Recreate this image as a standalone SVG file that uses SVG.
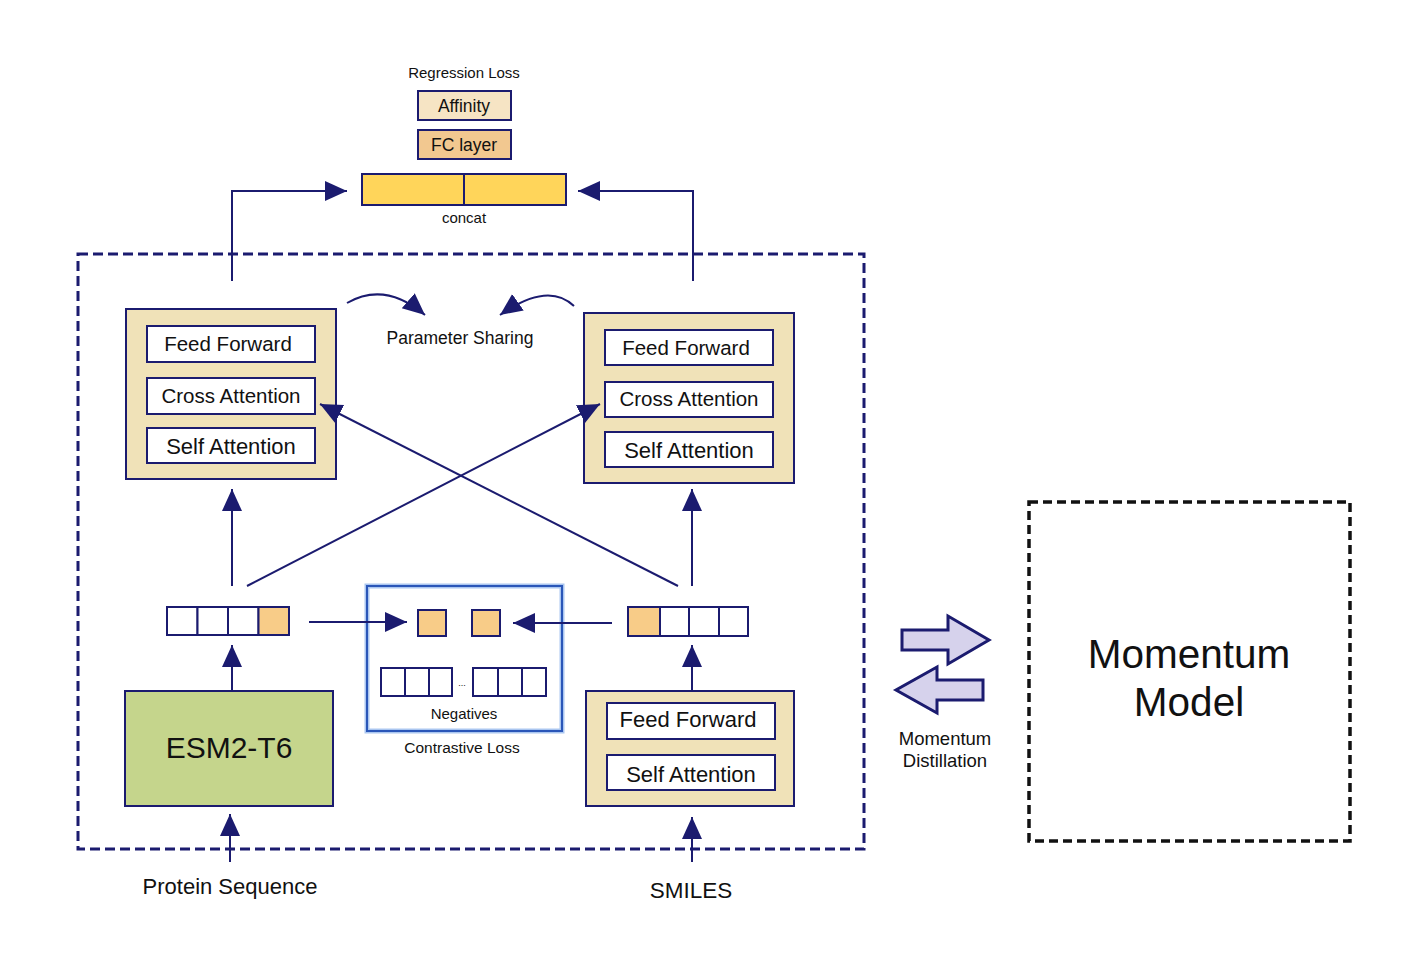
<svg xmlns="http://www.w3.org/2000/svg" width="1418" height="973" viewBox="0 0 1418 973">
<defs>
<marker id="ah" markerUnits="userSpaceOnUse" markerWidth="24" markerHeight="22" refX="22" refY="10" orient="auto">
<path d="M0,0 L22,10 L0,20 z" fill="#1b1b6f"/>
</marker>
</defs>
<style>
text{font-family:"Liberation Sans",Arial,sans-serif;fill:#111;text-anchor:middle}
.enc{fill:#f0e2b8;stroke:#1b1b6f;stroke-width:2}
.sub{fill:#fff;stroke:#1b1b6f;stroke-width:2}
.cell{fill:#fff;stroke:#1b1b6f;stroke-width:2}
.pe{fill:#f8cc88;stroke:#1b1b6f;stroke-width:2}
.ln{fill:none;stroke:#1b1b6f;stroke-width:2;marker-end:url(#ah)}
</style>
<rect width="1418" height="973" fill="#fff"/>

<g id="outer-frame">
<rect x="78" y="254" width="786" height="595" fill="none" stroke="#1b1b6f" stroke-width="3" stroke-dasharray="10 5"/>
</g>

<g id="regression-head">
<text x="464" y="78" font-size="15">Regression Loss</text>
<rect x="418" y="91" width="93" height="29" fill="#f6e4c4" stroke="#1b1b6f" stroke-width="2"/>
<text x="464" y="112" font-size="17.5">Affinity</text>
<rect x="418" y="130" width="93" height="29" fill="#f2c890" stroke="#1b1b6f" stroke-width="2"/>
<text x="464" y="151" font-size="17.5">FC layer</text>
</g>

<g id="concat">
<rect x="362" y="174" width="204" height="31" fill="#ffd55a" stroke="#1b1b6f" stroke-width="2"/>
<line x1="464" y1="174" x2="464" y2="205" stroke="#1b1b6f" stroke-width="2"/>
<text x="464" y="223" font-size="15">concat</text>
</g>

<g id="protein-encoder">
<rect class="enc" x="126" y="309" width="210" height="170"/>
<rect class="sub" x="147" y="326" width="168" height="36"/>
<text x="228" y="351" font-size="20.5">Feed Forward</text>
<rect class="sub" x="147" y="378" width="168" height="36"/>
<text x="231" y="403" font-size="20.5">Cross Attention</text>
<rect class="sub" x="147" y="428" width="168" height="35"/>
<text x="231" y="454" font-size="22">Self Attention</text>
</g>

<g id="smiles-fusion-encoder">
<rect class="enc" x="584" y="313" width="210" height="170"/>
<rect class="sub" x="605" y="330" width="168" height="35"/>
<text x="686" y="355" font-size="20.5">Feed Forward</text>
<rect class="sub" x="605" y="382" width="168" height="35"/>
<text x="689" y="406" font-size="20.5">Cross Attention</text>
<rect class="sub" x="605" y="432" width="168" height="35"/>
<text x="689" y="458" font-size="22">Self Attention</text>
</g>

<g id="parameter-sharing">
<text x="460" y="344" font-size="17.5">Parameter Sharing</text>
</g>

<g id="protein-embedding">
<rect class="cell" x="167" y="607" width="30.5" height="28"/>
<rect class="cell" x="197.5" y="607" width="30.5" height="28"/>
<rect class="cell" x="228" y="607" width="30.5" height="28"/>
<rect class="pe" x="258.5" y="607" width="30.5" height="28"/>
</g>

<g id="smiles-embedding">
<rect class="pe" x="628" y="607" width="32" height="29"/>
<rect class="cell" x="660" y="607" width="29" height="29"/>
<rect class="cell" x="689" y="607" width="30" height="29"/>
<rect class="cell" x="719" y="607" width="29" height="29"/>
</g>

<g id="contrastive-loss">
<rect x="367" y="586" width="195" height="145" fill="#fff" stroke="#aac6f0" stroke-width="5"/>
<rect x="367" y="586" width="195" height="145" fill="none" stroke="#2a56b8" stroke-width="2"/>
<rect class="pe" x="418" y="610" width="28" height="26"/>
<rect class="pe" x="472" y="610" width="28" height="26"/>
<rect class="cell" x="381" y="668" width="24" height="28"/>
<rect class="cell" x="405" y="668" width="24" height="28"/>
<rect class="cell" x="429" y="668" width="23" height="28"/>
<text x="462" y="686" font-size="9">...</text>
<rect class="cell" x="473" y="668" width="25" height="28"/>
<rect class="cell" x="498" y="668" width="24" height="28"/>
<rect class="cell" x="522" y="668" width="24" height="28"/>
<text x="464" y="719" font-size="15">Negatives</text>
<text x="462" y="753" font-size="15.5">Contrastive Loss</text>
</g>

<g id="esm2">
<rect x="125" y="691" width="208" height="115" fill="#c5d58c" stroke="#1b1b6f" stroke-width="2"/>
<text x="229" y="758" font-size="30">ESM2-T6</text>
</g>

<g id="smiles-encoder">
<rect class="enc" x="586" y="691" width="208" height="115"/>
<rect class="sub" x="607" y="703" width="168" height="36"/>
<text x="688" y="727" font-size="22">Feed Forward</text>
<rect class="sub" x="607" y="755" width="168" height="35"/>
<text x="691" y="782" font-size="22">Self Attention</text>
</g>

<g id="inputs">
<text x="230" y="894" font-size="22">Protein Sequence</text>
<text x="691" y="898" font-size="22.5">SMILES</text>
</g>

<g id="momentum-distillation">
<path d="M902,630 L948,630 L948,616 L989,640 L948,664 L948,650 L902,650 z" fill="#d6d2ec" stroke="#1b1b6f" stroke-width="3"/>
<path d="M983,680 L937,680 L937,667 L896,690 L937,713 L937,700 L983,700 z" fill="#d6d2ec" stroke="#1b1b6f" stroke-width="3"/>
<text x="945" y="745" font-size="18.5">Momentum</text>
<text x="945" y="767" font-size="18.5">Distillation</text>
</g>

<g id="momentum-model">
<rect x="1029" y="502" width="321" height="339" fill="none" stroke="#111" stroke-width="3.5" stroke-dasharray="9 5"/>
<text x="1189" y="668" font-size="40.5">Momentum</text>
<text x="1189" y="716" font-size="40.5">Model</text>
</g>

<g id="connectors">
<path class="ln" d="M232,281 L232,191 L347,191"/>
<path class="ln" d="M693,281 L693,191 L578,191"/>
<path class="ln" d="M347,303 Q385,281 425,315"/>
<path class="ln" d="M574,306 Q548,281 500,315"/>
<path class="ln" d="M247,586 L600,404"/>
<path class="ln" d="M678,586 L320,404"/>
<path class="ln" d="M232,586 L232,489"/>
<path class="ln" d="M692,586 L692,489"/>
<path class="ln" d="M309,622 L407,622"/>
<path class="ln" d="M612,623 L513,623"/>
<path class="ln" d="M232,691 L232,645"/>
<path class="ln" d="M692,691 L692,645"/>
<path class="ln" d="M230,862 L230,814"/>
<path class="ln" d="M692,862 L692,817"/>
</g>
</svg>
